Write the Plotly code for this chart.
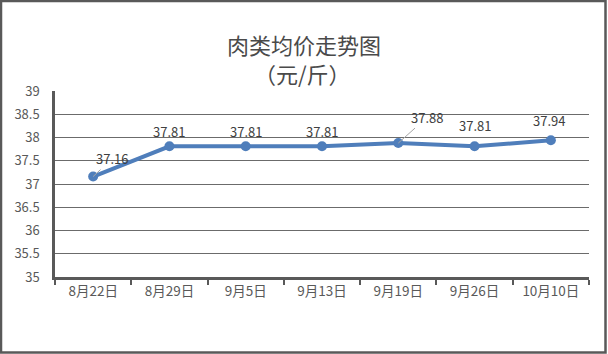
import plotly.graph_objects as go

categories = ["8月22日", "8月29日", "9月5日", "9月13日", "9月19日", "9月26日", "10月10日"]
values = [37.16, 37.81, 37.81, 37.81, 37.88, 37.81, 37.94]
labels = ["37.16", "37.81", "37.81", "37.81", "37.88", "37.81", "37.94"]
y_ticks = [35, 35.5, 36, 36.5, 37, 37.5, 38, 38.5, 39]
y_ticktext = ["35", "35.5", "36", "36.5", "37", "37.5", "38", "38.5", "39"]

# label offsets in pixels (style), and whether a leader line is drawn
label_dx = [19, 0, 0, 0, 29, 0, -2]
label_dy = [-18, -15, -15, -15, -26, -21, -20]
leader = [True, False, False, False, True, False, False]

W, H = 608, 354
ML, MR, MT, MB = 55, 19, 91, 77
pw, ph = W - ML - MR, H - MT - MB

FONT = "Noto Sans CJK SC"
TXT = "#404040"
LINE = "#4F7EBB"
AX = "#595959"

fig = go.Figure()
fig.add_trace(go.Scatter(
    x=categories, y=values, mode="lines+markers",
    line=dict(color=LINE, width=4),
    marker=dict(color=LINE, size=10),
    hoverinfo="skip", showlegend=False,
))

for c, v, t, dx, dy, ld in zip(categories, values, labels, label_dx, label_dy, leader):
    if ld:
        fig.add_annotation(x=c, y=v, text=t, showarrow=True, arrowhead=0,
                           ax=dx, ay=dy, arrowcolor="#A6A6A6", arrowwidth=1,
                           standoff=0, startstandoff=0,
                           font=dict(family=FONT, size=13, color=TXT))
    else:
        fig.add_annotation(x=c, y=v, text=t, showarrow=False,
                           xshift=dx, yshift=-dy,
                           font=dict(family=FONT, size=13, color=TXT))

# outer border
def px2x(p):
    return (p - ML) / pw

def py2y(p):
    return (H - MB - p) / ph

fig.add_shape(type="rect", xref="paper", yref="paper",
              x0=px2x(1), x1=px2x(605.5), y0=py2y(352.5), y1=py2y(1),
              line=dict(color=AX, width=2.5), fillcolor="rgba(0,0,0,0)")

fig.add_annotation(xref="paper", yref="paper", x=px2x(304), y=py2y(26),
                   text="肉类均价走势图", showarrow=False,
                   font=dict(family=FONT, size=22, color="#4a4a4a"))
fig.add_annotation(xref="paper", yref="paper", x=px2x(302), y=py2y(55),
                   text="（元/斤）", showarrow=False,
                   font=dict(family=FONT, size=22, color="#4a4a4a"))

fig.update_layout(
    width=W, height=H, autosize=False,
    margin=dict(l=ML, r=MR, t=MT, b=MB, pad=0),
    paper_bgcolor="white", plot_bgcolor="white",
    xaxis=dict(type="category", tickson="boundaries", ticks="outside",
               ticklen=5, tickwidth=2, tickcolor=AX,
               showline=True, linecolor=AX, linewidth=2.5,
               showgrid=False, zeroline=False,
               tickfont=dict(family=FONT, size=13.5, color="#595959"),
               range=[-0.5, 6.5]),
    yaxis=dict(range=[35, 39], tickvals=y_ticks, ticktext=y_ticktext,
               showline=True, linecolor=AX, linewidth=2.5,
               showgrid=True, gridcolor="#6b6b6b", gridwidth=1,
               zeroline=False, ticks="", ticklabelstandoff=10,
               tickfont=dict(family=FONT, size=13, color="#595959")),
)

fig.write_html("out.html")
